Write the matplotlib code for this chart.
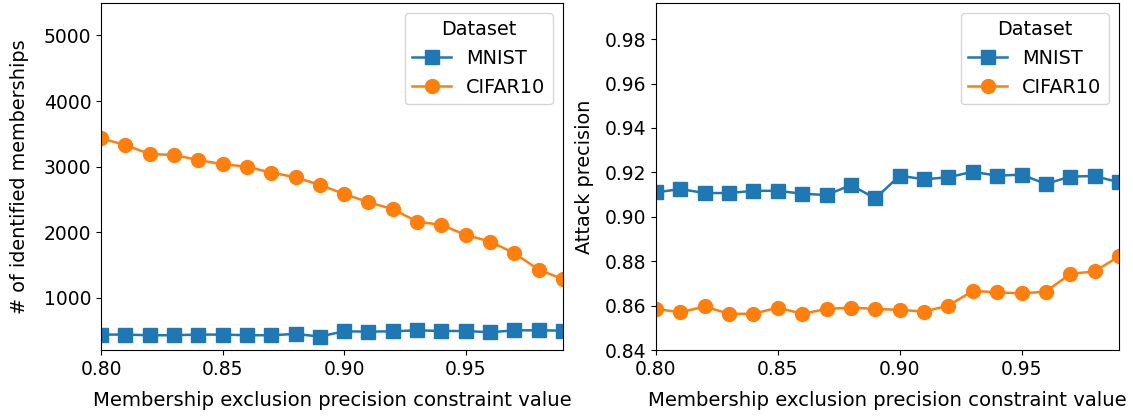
import matplotlib
matplotlib.use("Agg")
import matplotlib.pyplot as plt

x_vals = [0.80, 0.81, 0.82, 0.83, 0.84, 0.85, 0.86, 0.87, 0.88, 0.89,
          0.90, 0.91, 0.92, 0.93, 0.94, 0.95, 0.96, 0.97, 0.98, 0.99]

mnist_count = [440, 440, 430, 430, 440, 440, 430, 430, 450, 410,
               490, 485, 490, 505, 495, 495, 475, 505, 505, 500]
cifar_count = [3432, 3330, 3193, 3178, 3102, 3037, 3000, 2909, 2839, 2722,
               2584, 2458, 2352, 2163, 2112, 1960, 1858, 1682, 1428, 1286]

mnist_prec = [0.9110, 0.9125, 0.9107, 0.9107, 0.9117, 0.9117, 0.9104, 0.9098, 0.9143, 0.9083,
              0.9185, 0.9169, 0.9178, 0.9203, 0.9185, 0.9190, 0.9148, 0.9181, 0.9184, 0.9155]
cifar_prec = [0.8585, 0.8570, 0.8596, 0.8563, 0.8563, 0.8591, 0.8563, 0.8585, 0.8591, 0.8585,
              0.8581, 0.8573, 0.8600, 0.8666, 0.8660, 0.8655, 0.8663, 0.8743, 0.8754, 0.8822]

series_names = ["MNIST", "CIFAR10"]
legend_title = "Dataset"
xlabel = "Membership exclusion precision constraint value"
ylabels = ["# of identified memberships", "Attack precision"]
xticks = [0.80, 0.85, 0.90, 0.95]
yticks_count = [1000, 2000, 3000, 4000, 5000]
yticks_prec = [0.84, 0.86, 0.88, 0.90, 0.92, 0.94, 0.96, 0.98]

plt.rcParams['font.size'] = 13.5
fig = plt.figure(figsize=(11.33, 4.16), dpi=100)
ax1 = fig.add_axes([101/1133, 1-350/416, 462/1133, 347/416])
ax2 = fig.add_axes([656/1133, 1-350/416, 463/1133, 347/416])

blue = "#1f77b4"
orange = "#ff7f0e"
lw = 1.8

for ax, a, b, yl, ypad in [(ax1, mnist_count, cifar_count, ylabels[0], 10.5),
                           (ax2, mnist_prec, cifar_prec, ylabels[1], 7.5)]:
    ax.plot(x_vals, a, marker='s', color=blue, lw=lw, markersize=9.5, label=series_names[0])
    ax.plot(x_vals, b, marker='o', color=orange, lw=lw, markersize=10, label=series_names[1])
    ax.set_xlim(0.80, 0.99)
    ax.set_xticks(xticks)
    ax.set_xlabel(xlabel, labelpad=9, fontsize=14.1)
    ax.set_ylabel(yl, labelpad=ypad, fontsize=13.9)
    ax.legend(title=legend_title, loc='upper right', fontsize=13.9, title_fontsize=13.9)

ax1.set_ylim(205, 5495)
ax1.set_yticks(yticks_count)
ax2.set_ylim(0.84, 0.9963)
ax2.set_yticks(yticks_prec)
ax2.set_yticklabels([f"{v:.2f}" for v in yticks_prec])

fig.savefig("out.png", dpi=100)
